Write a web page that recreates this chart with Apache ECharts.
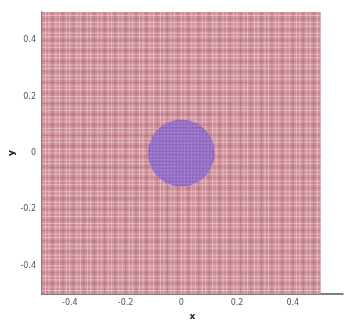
<!DOCTYPE html>
<html>
<head>
<meta charset="utf-8">
<script src="https://cdn.jsdelivr.net/npm/echarts@6/dist/echarts.min.js"></script>
<style>
  html, body { margin: 0; padding: 0; background: #fff; }
  #chart { width: 344px; height: 320px; }
</style>
</head>
<body>
<div id="chart"></div>
<script>
// Computational domain and the embedded disc
const domainX = [-0.5, 0.5];
const domainY = [-0.5, 0.5];
const disc = [[0, 0, 0.12]];          // centre x, centre y, radius
const meshCells = 80;                 // background mesh cells per side
const discCells = 40;                 // refined mesh cells across the disc
const tickValues = [-0.4, -0.2, 0, 0.2, 0.4];

const chart = echarts.init(document.getElementById('chart'), null, { renderer: 'canvas' });

function meshStroke(i) {
  return i % 3 === 0 ? 'rgba(150,90,100,0.35)' : 'rgba(255,228,232,0.45)';
}

function renderDomain(params, api) {
  const p0 = api.coord([domainX[0], domainY[1]]);
  const p1 = api.coord([domainX[1], domainY[0]]);
  const children = [{
    type: 'rect',
    shape: { x: p0[0], y: p0[1], width: p1[0] - p0[0], height: p1[1] - p0[1] },
    style: { fill: '#cd8f98' }
  }];
  const dx = (domainX[1] - domainX[0]) / meshCells;
  const dy = (domainY[1] - domainY[0]) / meshCells;
  for (let i = 1; i < meshCells; i++) {
    const a = api.coord([domainX[0] + i * dx, domainY[0]]);
    children.push({
      type: 'line',
      shape: { x1: a[0], y1: p0[1], x2: a[0], y2: p1[1] },
      style: { stroke: meshStroke(i), lineWidth: 1 }
    });
    const b = api.coord([domainX[0], domainY[0] + i * dy]);
    children.push({
      type: 'line',
      shape: { x1: p0[0], y1: b[1], x2: p1[0], y2: b[1] },
      style: { stroke: meshStroke(i), lineWidth: 1 }
    });
  }
  return { type: 'group', children };
}

function renderDisc(params, api) {
  const cx = api.value(0), cy = api.value(1), rad = api.value(2);
  const c = api.coord([cx, cy]);
  const r = api.size([rad, 0])[0];
  const children = [{
    type: 'circle',
    shape: { cx: c[0], cy: c[1], r },
    style: { fill: '#9874c8' }
  }];
  const step = (2 * rad) / discCells;
  for (let i = 1; i < discCells; i++) {
    const a = api.coord([cx - rad + i * step, cy - rad]);
    const b = api.coord([cx - rad, cy - rad + i * step]);
    const s = i % 2 === 0 ? 'rgba(185,145,225,0.3)' : 'rgba(120,80,165,0.3)';
    children.push({ type: 'line', shape: { x1: a[0], y1: c[1] - r, x2: a[0], y2: c[1] + r }, style: { stroke: s, lineWidth: 1 } });
    children.push({ type: 'line', shape: { x1: c[0] - r, y1: b[1], x2: c[0] + r, y2: b[1] }, style: { stroke: s, lineWidth: 1 } });
  }
  return {
    type: 'group',
    clipPath: { type: 'circle', shape: { cx: c[0], cy: c[1], r } },
    children
  };
}

const axisText = { color: '#555', fontSize: 8, fontFamily: 'DejaVu Sans' };

chart.setOption({
  animation: false,
  grid: { left: 42, top: 12, right: 1, bottom: 26, outerBoundsMode: 'none', containLabel: false },
  xAxis: {
    type: 'value', min: -0.5, max: 0.58,
    name: 'x', nameLocation: 'middle', nameGap: 18, nameMoveOverlap: false,
    nameTextStyle: { fontSize: 9, fontWeight: 'bold', color: '#222', fontFamily: 'DejaVu Sans' },
    axisLine: { show: true, onZero: false, lineStyle: { color: '#555', width: 1.5 } },
    axisTick: { show: true, inside: true, length: 6, customValues: tickValues, lineStyle: { color: '#333', width: 1.5 } },
    axisLabel: { ...axisText, margin: 5, customValues: tickValues, formatter: v => String(v) },
    splitLine: { show: false }
  },
  yAxis: {
    type: 'value', min: -0.5, max: 0.5,
    name: 'y', nameLocation: 'middle', nameGap: 26, nameMoveOverlap: false,
    nameTextStyle: { fontSize: 9, fontWeight: 'bold', color: '#222', fontFamily: 'DejaVu Sans' },
    axisLine: { show: true, onZero: false, lineStyle: { color: '#555', width: 1.5 } },
    axisTick: { show: true, inside: true, length: 6, customValues: tickValues, lineStyle: { color: '#333', width: 1.5 } },
    axisLabel: { ...axisText, margin: 6, customValues: tickValues, formatter: v => String(v) },
    splitLine: { show: false }
  },
  series: [
    { type: 'custom', renderItem: renderDomain, data: [[0, 0]], z: 1, silent: true },
    { type: 'custom', renderItem: renderDisc, data: disc, z: 2, silent: true }
  ]
});
</script>
</body>
</html>
